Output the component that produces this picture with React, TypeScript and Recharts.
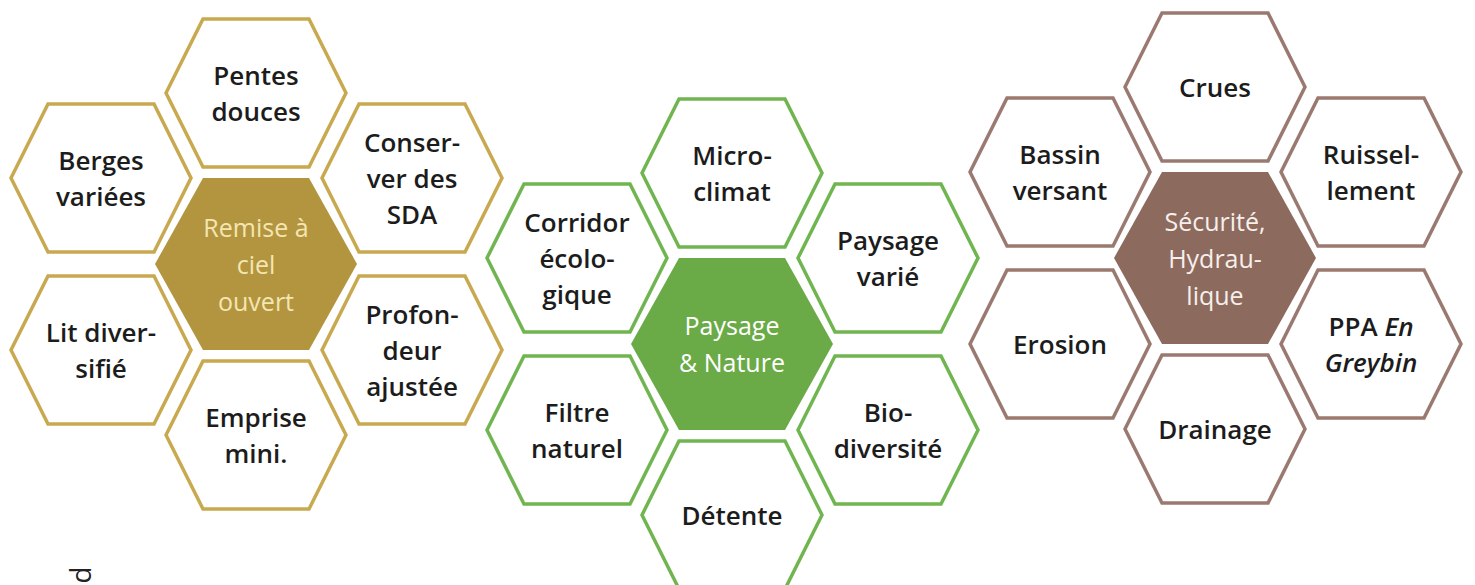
import { Scatter, ScatterChart, XAxis, YAxis } from "recharts";

const W = 1475;
const H = 585;

// three themes, each a central hub hexagon with six surrounding hexagons
const hubNames = ["remise", "paysage", "securite"];
const hubLabels = [
  ["Remise à", "ciel", "ouvert"],
  ["Paysage", "& Nature"],
  ["Sécurité,", "Hydrau-", "lique"],
];
const hubX = [256, 732, 1215];
const hubY = [264, 344, 258];

// ring order: top, upper right, lower right, bottom, lower left, upper left
// "_" toggles italics
const remiseRing = [
  ["Pentes", "douces"],
  ["Conser-", "ver des", "SDA"],
  ["Profon-", "deur", "ajustée"],
  ["Emprise", "mini."],
  ["Lit diver-", "sifié"],
  ["Berges", "variées"],
];
const paysageRing = [
  ["Micro-", "climat"],
  ["Paysage", "varié"],
  ["Bio-", "diversité"],
  ["Détente"],
  ["Filtre", "naturel"],
  ["Corridor", "écolo-", "gique"],
];
const securiteRing = [
  ["Crues"],
  ["Ruissel-", "lement"],
  ["PPA _En_", "_Greybin_"],
  ["Drainage"],
  ["Erosion"],
  ["Bassin", "versant"],
];
const rings = [remiseRing, paysageRing, securiteRing];

const slotDX = [0, 156, 156, 0, -155, -155];
const slotDY = [-171, -86, 86, 171, 86, -86];

const theme: Record<string, { stroke: string; fill: string; hubText: string }> = {
  remise: { stroke: "#c8a94f", fill: "#b3953f", hubText: "#f3e6b2" },
  paysage: { stroke: "#70b550", fill: "#6aab47", hubText: "#ffffff" },
  securite: { stroke: "#9a7a70", fill: "#8d6a5e", hubText: "#f6efec" },
};

const FONT = "'Open Sans', 'Noto Sans', sans-serif";

function parts(line: string) {
  return line.split("_").map((s, i) => (
    <tspan key={i} fontStyle={i % 2 === 1 ? "italic" : "normal"}>
      {s}
    </tspan>
  ));
}

function Hex(props: any) {
  const { cx, cy, payload } = props;
  const t = theme[payload.group];
  const hub = payload.hub;
  const w = hub ? 101 : 90;
  const f = 53;
  const h = hub ? 86 : 74;
  const pts = [
    [cx - w, cy],
    [cx - f, cy - h],
    [cx + f, cy - h],
    [cx + w, cy],
    [cx + f, cy + h],
    [cx - f, cy + h],
  ]
    .map((p) => p.join(","))
    .join(" ");
  const lines: string[] = payload.lines;
  const lh = hub ? 37 : 36;
  const fs = hub ? 25 : 26;
  return (
    <g>
      <polygon
        points={pts}
        fill={hub ? t.fill : "#ffffff"}
        stroke={hub ? t.fill : t.stroke}
        strokeWidth={hub ? 0 : 3.5}
      />
      {lines.map((ln, i) => (
        <text
          key={i}
          x={cx}
          y={cy + (i - (lines.length - 1) / 2) * lh + fs * 0.38}
          textAnchor="middle"
          fontFamily={FONT}
          fontSize={fs}
          fontWeight={hub ? 400 : 600}
          fill={hub ? t.hubText : "#1c1c1c"}
        >
          {parts(ln)}
        </text>
      ))}
    </g>
  );
}

function groupData(g: number) {
  const out = [
    { x: hubX[g], y: hubY[g], lines: hubLabels[g], hub: true, group: hubNames[g] },
  ];
  rings[g].forEach((lines, s) => {
    out.push({
      x: hubX[g] + slotDX[s],
      y: hubY[g] + slotDY[s],
      lines,
      hub: false,
      group: hubNames[g],
    });
  });
  return out;
}

export default function App() {
  return (
    <div
      style={{
        position: "absolute",
        left: 0,
        top: 0,
        width: W,
        height: H,
        overflow: "hidden",
        background: "#ffffff",
      }}
    >
      <ScatterChart width={W} height={H} margin={{ top: 0, right: 0, bottom: 0, left: 0 }}>
        <XAxis type="number" dataKey="x" domain={[0, W]} hide />
        <YAxis type="number" dataKey="y" domain={[0, H]} reversed hide />
        {hubNames.map((name, g) => (
          <Scatter
            key={name}
            name={name}
            data={groupData(g)}
            shape={Hex}
            isAnimationActive={false}
          />
        ))}
      </ScatterChart>
      <span
        style={{
          position: "absolute",
          left: 78,
          top: 561,
          fontFamily: FONT,
          fontSize: 28,
          color: "#222",
          transform: "rotate(90deg)",
          lineHeight: 1,
        }}
      >
        p
      </span>
    </div>
  );
}
